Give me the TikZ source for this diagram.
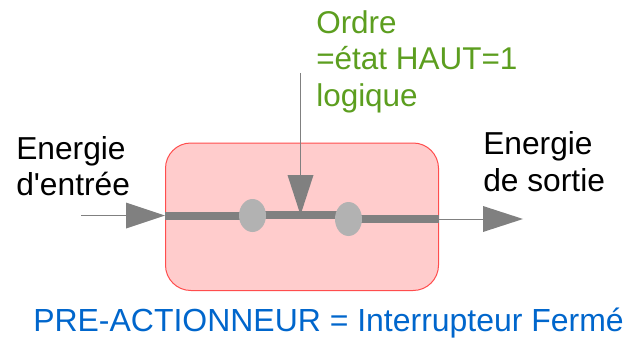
\documentclass[tikz,border=0pt]{standalone}
\usepackage{fontspec}
\newfontfamily\lblfont{Liberation Sans}
\usetikzlibrary{calc}
\definecolor{boxfill}{HTML}{FFCCCC}
\definecolor{boxline}{HTML}{FF4D4D}
\definecolor{wire}{HTML}{808080}
\definecolor{contact}{HTML}{B2B2B2}
\definecolor{ordre}{HTML}{5C9E1F}
\definecolor{titre}{HTML}{0066CC}
\tikzset{
  x=0.75pt,y=-0.75pt,
  blockbox/.style={draw=boxline,fill=boxfill,line width=0.75pt,rounded corners=19pt},
  busbar/.style={draw=wire,line width=6pt},
  thinwire/.style={draw=wire,line width=0.75pt},
  headtri/.style={fill=wire,draw=none},
  lab/.style={font=\lblfont\fontsize{23.8}{27.5}\selectfont,align=left,inner sep=0pt,anchor=north west,text=black},
}
\begin{document}
\begin{tikzpicture}
\useasboundingbox (0,0) rectangle (641,342);
\draw[blockbox] (165.5,143) rectangle (438.5,290.5);
\coordinate (inS) at (81,215.5);
\coordinate (inB) at (126,215.5);
\coordinate (inT) at (165,215.5);
\coordinate (outA) at (438.5,219);
\coordinate (outB) at (483,219);
\coordinate (outT) at (523,219);
\coordinate (ordS) at (300.5,73);
\coordinate (ordB) at (300.5,175);
\coordinate (ordT) at (300.5,215);
\draw[thinwire] (inS) -- (inB);
\draw[thinwire] (outA) -- (outB);
\draw[thinwire] (ordS) -- (ordB);
\draw[busbar] (inT) -- (252.5,215.5);
\draw[busbar] (252.5,215) -- (348,215);
\draw[busbar] (348,219) -- (outA);
\fill[headtri] (126,202.5) -- (inT) -- (126,228.5) -- cycle;
\fill[headtri] (483,206) -- (outT) -- (483,232) -- cycle;
\fill[headtri] (287.5,175) -- (ordT) -- (313.5,175) -- cycle;
\fill[contact] (252.5,215.5) ellipse [x radius=13.5,y radius=16.5];
\fill[contact] (348.5,219) ellipse [x radius=13.5,y radius=17];
\node[lab] (e) at (16,136) {Energie\\d'entrée};
\node[lab] (s) at (483,131.5) {Energie\\de sortie};
\node[lab,text=ordre,font=\lblfont\fontsize{23.6}{27.5}\selectfont] (o) at (316,10) {Ordre\\=état HAUT=1\\logique};
\node[lab,text=titre,font=\lblfont\fontsize{23.97}{27.5}\selectfont] (t) at (33,308) {PRE-ACTIONNEUR = Interrupteur Fermé};
\end{tikzpicture}
\end{document}
